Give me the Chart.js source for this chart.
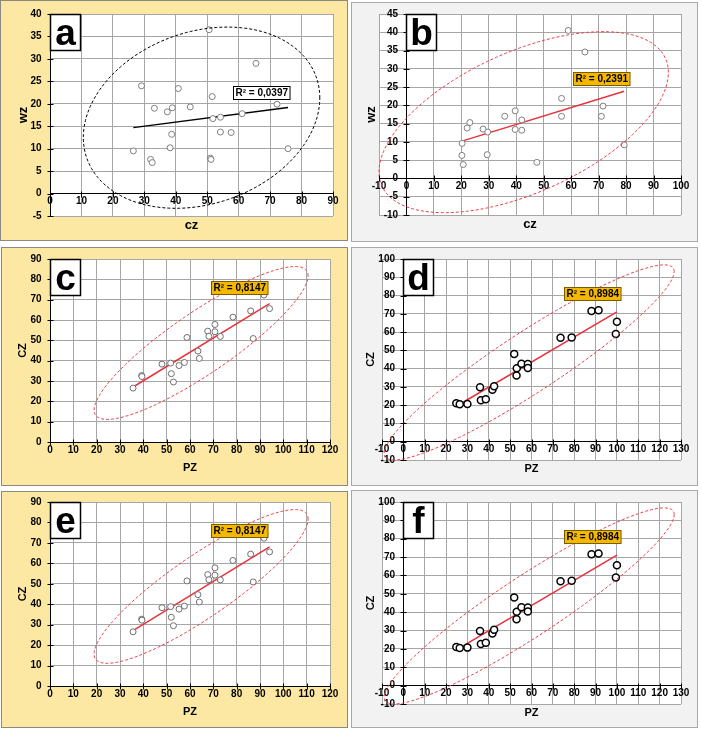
<!DOCTYPE html>
<html>
<head>
<meta charset="utf-8">
<script src="https://cdn.jsdelivr.net/npm/chart.js@4.4.0/dist/chart.umd.min.js"></script>
<style>
body { margin:0; background:#fff; width:701px; height:732px; position:relative; overflow:hidden; }
.panel { position:absolute; box-sizing:border-box; }
.yellow { background:#FDE8A3; border:1px solid #8c8a80; }
.gray { background:#F2F2F2; border:1px solid #a8a8a8; }
.panel canvas { position:absolute; left:-1px; top:-1px; }
</style>
</head>
<body>
<div class="panel yellow" style="left:0;top:0;width:348px;height:241px"><canvas id="ca"></canvas></div>
<div class="panel gray" style="left:351px;top:2px;width:347px;height:240px"><canvas id="cb"></canvas></div>
<div class="panel yellow" style="left:1px;top:247px;width:347px;height:239px"><canvas id="cc"></canvas></div>
<div class="panel gray" style="left:351px;top:247px;width:347px;height:239px"><canvas id="cd"></canvas></div>
<div class="panel yellow" style="left:1px;top:491px;width:347px;height:237px"><canvas id="ce"></canvas></div>
<div class="panel gray" style="left:351px;top:490px;width:347px;height:238px"><canvas id="cf"></canvas></div>
<script>
// a: wz against cz
var aCz = [26.5, 29.1, 32.0, 32.5, 33.2, 37.3, 38.2, 38.7, 38.9, 40.8, 44.6, 50.6, 51.0, 51.2, 51.6, 51.8, 54.2, 54.2, 57.6, 61.1, 65.5, 72.2, 75.7];
var aWz = [9.5, 24.0, 7.6, 6.9, 19.0, 18.2, 10.2, 13.2, 19.1, 23.4, 19.3, 36.5, 7.9, 7.6, 21.6, 16.7, 17.0, 13.7, 13.6, 17.8, 29.0, 19.9, 10.0];
// b: wz against cz
var bCz = [20.2, 20.3, 20.7, 22.1, 23.1, 27.9, 29.4, 29.6, 35.8, 39.6, 39.6, 42.0, 42.0, 47.5, 56.5, 56.5, 58.9, 65.0, 71.0, 71.6, 79.3];
var bWz = [6.3, 9.6, 3.8, 13.8, 15.3, 13.5, 6.5, 12.7, 17.0, 18.5, 13.4, 16.0, 13.2, 4.4, 21.9, 17.0, 40.5, 34.6, 17.0, 19.8, 9.2];
// c and e: CZ against PZ
var cPz = [35.6, 39.3, 39.4, 48.0, 51.7, 52.0, 52.9, 55.3, 57.6, 58.7, 63.4, 64.0, 67.6, 68.1, 70.7, 70.7, 73.0, 78.4, 86.0, 87.1, 91.7, 94.1];
var cCz = [26.5, 32.7, 32.2, 38.3, 38.8, 33.6, 29.5, 37.6, 39.1, 51.4, 44.7, 41.1, 54.5, 52.0, 57.8, 54.2, 51.9, 61.4, 64.5, 50.9, 72.3, 65.6];
// d and f: CZ against PZ
var dPz = [24.8, 26.4, 30.0, 35.9, 36.3, 38.6, 41.7, 42.5, 51.9, 53.0, 53.1, 55.3, 58.3, 58.3, 73.6, 78.8, 88.1, 91.4, 99.5, 100.0];
var dCz = [21.1, 20.5, 20.7, 29.8, 22.7, 23.3, 28.4, 30.4, 48.0, 36.2, 40.2, 42.7, 42.5, 40.4, 56.9, 57.1, 71.5, 72.0, 58.9, 65.6];

// ellipses: centre x, centre y, then two conjugate half axes (data units)
var aEllipse = [48.2, 16.9, 37.6, 4.4, 0, 19.7];
var bEllipse = [42.7, 15.4, 52.7, 13.6, 0, 20.7];
var cEllipse = [64.75, 48.7, 45.85, 33.0, 0, 18];
var dEllipse = [58.9, 43.4, 67.9, 49.7, 0, 19.5];

var r2Labels = ['R² = 0,0397', 'R² = 0,2391', 'R² = 0,8147', 'R² = 0,8984'];
// where the R² box sits (left edge x, middle y)
var r2Anchor = [[58.2, 22.6], [60.5, 27.3], [68.9, 76.1], [75.3, 81.0]];

// axis ranges: min, max, step
var aXAxis = [0, 90, 10], aYAxis = [-5, 40, 5];
var bXAxis = [-10, 100, 10], bYAxis = [-10, 45, 5];
var cXAxis = [0, 120, 10], cYAxis = [0, 90, 10];
var dXAxis = [-10, 130, 10], dYAxis = [-10, 100, 10];

var FONT = '"Liberation Sans", Arial, sans-serif';

function fitLine(xs, ys) {
  var n = xs.length, mx = 0, my = 0, sxy = 0, sxx = 0;
  for (var i = 0; i < n; i++) { mx += xs[i]; my += ys[i]; }
  mx /= n; my /= n;
  for (var i = 0; i < n; i++) { sxy += (xs[i]-mx)*(ys[i]-my); sxx += (xs[i]-mx)*(xs[i]-mx); }
  var b = sxy / sxx, a = my - b*mx;
  var lo = Math.min.apply(null, xs), hi = Math.max.apply(null, xs);
  return [{x: lo, y: a + b*lo}, {x: hi, y: a + b*hi}];
}

function decor(p) {
  return {
    id: 'decor',
    beforeDraw: function(chart) {
      var ca = chart.chartArea, ctx = chart.ctx;
      ctx.save();
      ctx.fillStyle = '#fff';
      ctx.fillRect(ca.left, ca.top, ca.right - ca.left, ca.bottom - ca.top);
      ctx.restore();
    },
    afterDatasetsDraw: function(chart) {
      var sx = chart.scales.x, sy = chart.scales.y, ctx = chart.ctx, e = p.ellipse;
      ctx.save();
      ctx.beginPath();
      for (var i = 0; i <= 200; i++) {
        var t = i / 200 * 2 * Math.PI;
        var px = sx.getPixelForValue(e[0] + e[2]*Math.cos(t) + e[4]*Math.sin(t));
        var py = sy.getPixelForValue(e[1] + e[3]*Math.cos(t) + e[5]*Math.sin(t));
        if (i) ctx.lineTo(px, py); else ctx.moveTo(px, py);
      }
      ctx.closePath();
      ctx.setLineDash([3, 2]);
      ctx.lineWidth = 1;
      ctx.strokeStyle = p.ellColor;
      ctx.stroke();
      ctx.restore();
    },
    afterDraw: function(chart) {
      var sx = chart.scales.x, sy = chart.scales.y, ctx = chart.ctx, ca = chart.chartArea;
      ctx.save();
      // cross the y ticks to the right of the axis as well
      var x0 = Math.round(sx.getPixelForValue(0)) + 0.5;
      ctx.strokeStyle = '#000';
      ctx.lineWidth = 1;
      ctx.beginPath();
      sy.ticks.forEach(function(t) {
        var py = Math.round(sy.getPixelForValue(t.value)) + 0.5;
        ctx.moveTo(x0 - 3, py); ctx.lineTo(x0 + 3, py);
      });
      var y0 = Math.round(sy.getPixelForValue(0)) + 0.5;
      sx.ticks.forEach(function(t) {
        var px = Math.round(sx.getPixelForValue(t.value)) + 0.5;
        ctx.moveTo(px, y0 - 3); ctx.lineTo(px, y0 + 3);
      });
      ctx.stroke();
      // R² box
      ctx.font = 'bold 10px ' + FONT;
      var tw = ctx.measureText(p.r2).width;
      var bx = Math.round(sx.getPixelForValue(p.r2At[0])) + 0.5;
      var by = Math.round(sy.getPixelForValue(p.r2At[1]) - 6.5) + 0.5;
      ctx.fillStyle = p.r2Fill;
      ctx.fillRect(bx, by, tw + 4, 13);
      ctx.strokeStyle = p.r2Line;
      ctx.strokeRect(bx, by, tw + 4, 13);
      ctx.fillStyle = '#000';
      ctx.textBaseline = 'middle';
      ctx.textAlign = 'left';
      ctx.fillText(p.r2, bx + 2, by + 7);
      // panel letter
      var lx = x0, ly = Math.round(ca.top) + 0.5;
      ctx.fillStyle = '#fff';
      ctx.fillRect(lx, ly, 30, 36);
      ctx.strokeStyle = '#000';
      ctx.lineWidth = 1.5;
      ctx.strokeRect(lx, ly, 30, 36);
      ctx.fillStyle = '#000';
      ctx.font = 'bold 37px ' + FONT;
      ctx.textAlign = 'center';
      ctx.textBaseline = 'alphabetic';
      ctx.fillText(p.letter, lx + 15, ly + 30);
      // axis titles
      ctx.font = 'bold ' + p.titleSize + 'px ' + FONT;
      ctx.textBaseline = 'middle';
      ctx.fillText(p.xTitle, (ca.left + ca.right) / 2, Math.max(ca.bottom, y0 + 16) + 9);
      ctx.font = 'bold 10px ' + FONT;
      var wide = Math.max(ctx.measureText(String(p.yAxis[0])).width, ctx.measureText(String(p.yAxis[1])).width);
      var tx = Math.min(ca.left, x0 - 8 - wide) - 8;
      ctx.font = 'bold ' + p.titleSize + 'px ' + FONT;
      ctx.translate(tx, (ca.top + ca.bottom) / 2);
      ctx.rotate(-Math.PI / 2);
      ctx.fillText(p.yTitle, 0, 0);
      ctx.restore();
    }
  };
}

function makePanel(p) {
  var el = document.getElementById(p.id);
  el.width = p.size[0];
  el.height = p.size[1];
  var pts = p.xs.map(function(v, i) { return {x: v, y: p.ys[i]}; });
  var tickFont = {family: FONT, size: 10, weight: 'bold'};
  new Chart(el, {
    type: 'scatter',
    data: {
      datasets: [{
        data: pts,
        pointRadius: p.pointR,
        pointBorderWidth: p.pointW,
        pointBackgroundColor: '#fff',
        pointBorderColor: p.pointColor
      }, {
        data: fitLine(p.xs, p.ys),
        showLine: true,
        pointRadius: 0,
        borderColor: p.lineColor,
        borderWidth: 1.5
      }]
    },
    options: {
      responsive: false,
      animation: false,
      events: [],
      layout: {padding: {left: p.pad[0], top: p.pad[1], right: p.pad[2], bottom: p.pad[3]}},
      plugins: {legend: {display: false}, tooltip: {enabled: false}},
      scales: {
        x: {
          type: 'linear', position: {y: 0},
          min: p.xAxis[0], max: p.xAxis[1],
          ticks: {stepSize: p.xAxis[2], font: tickFont, color: '#000', autoSkip: false, maxRotation: 0, padding: 2},
          grid: {color: '#a6a6a6', drawTicks: false, tickLength: 4},
          border: {color: '#000', width: 1}
        },
        y: {
          type: 'linear', position: {x: 0},
          min: p.yAxis[0], max: p.yAxis[1],
          ticks: {stepSize: p.yAxis[2], font: tickFont, color: '#000', autoSkip: false,
            // labels sit right-aligned on the axis line, so push them off it
            callback: function(v) { return v + '   '; }},
          grid: {color: '#a6a6a6', drawTicks: false},
          border: {color: '#000', width: 1}
        }
      }
    },
    plugins: [decor(p)]
  });
}

var red = '#e8323c', redDash = '#e8404a';

makePanel({id: 'ca', size: [350, 243], pad: [50, 14, 17, 27], xs: aCz, ys: aWz, xAxis: aXAxis, yAxis: aYAxis,
  ellipse: aEllipse, ellColor: '#000', lineColor: '#000', pointColor: '#808080', pointR: 3, pointW: 1,
  r2: r2Labels[0], r2At: r2Anchor[0], r2Fill: '#fff', r2Line: '#000', letter: 'a', xTitle: 'cz', yTitle: 'wz', titleSize: 13});
makePanel({id: 'cb', size: [349, 242], pad: [28, 12, 19, 29], xs: bCz, ys: bWz, xAxis: bXAxis, yAxis: bYAxis,
  ellipse: bEllipse, ellColor: redDash, lineColor: red, pointColor: '#808080', pointR: 3, pointW: 1,
  r2: r2Labels[1], r2At: r2Anchor[1], r2Fill: '#f5b800', r2Line: '#7a5c00', letter: 'b', xTitle: 'cz', yTitle: 'wz', titleSize: 13});
makePanel({id: 'cc', size: [349, 241], pad: [49, 12, 20, 46], xs: cPz, ys: cCz, xAxis: cXAxis, yAxis: cYAxis,
  ellipse: cEllipse, ellColor: redDash, lineColor: red, pointColor: '#707070', pointR: 3, pointW: 1,
  r2: r2Labels[2], r2At: r2Anchor[2], r2Fill: '#f5b800', r2Line: '#7a5c00', letter: 'c', xTitle: 'PZ', yTitle: 'CZ', titleSize: 11});
makePanel({id: 'cd', size: [349, 241], pad: [31, 12, 19, 28], xs: dPz, ys: dCz, xAxis: dXAxis, yAxis: dYAxis,
  ellipse: dEllipse, ellColor: redDash, lineColor: red, pointColor: '#000', pointR: 3.5, pointW: 1.5,
  r2: r2Labels[3], r2At: r2Anchor[3], r2Fill: '#f5b800', r2Line: '#7a5c00', letter: 'd', xTitle: 'PZ', yTitle: 'CZ', titleSize: 11});
makePanel({id: 'ce', size: [349, 239], pad: [49, 11, 20, 44], xs: cPz, ys: cCz, xAxis: cXAxis, yAxis: cYAxis,
  ellipse: cEllipse, ellColor: redDash, lineColor: red, pointColor: '#707070', pointR: 3, pointW: 1,
  r2: r2Labels[2], r2At: r2Anchor[2], r2Fill: '#f5b800', r2Line: '#7a5c00', letter: 'e', xTitle: 'PZ', yTitle: 'CZ', titleSize: 11});
makePanel({id: 'cf', size: [349, 240], pad: [31, 12, 19, 26], xs: dPz, ys: dCz, xAxis: dXAxis, yAxis: dYAxis,
  ellipse: dEllipse, ellColor: redDash, lineColor: red, pointColor: '#000', pointR: 3.5, pointW: 1.5,
  r2: r2Labels[3], r2At: r2Anchor[3], r2Fill: '#f5b800', r2Line: '#7a5c00', letter: 'f', xTitle: 'PZ', yTitle: 'CZ', titleSize: 11});
</script>
</body>
</html>
